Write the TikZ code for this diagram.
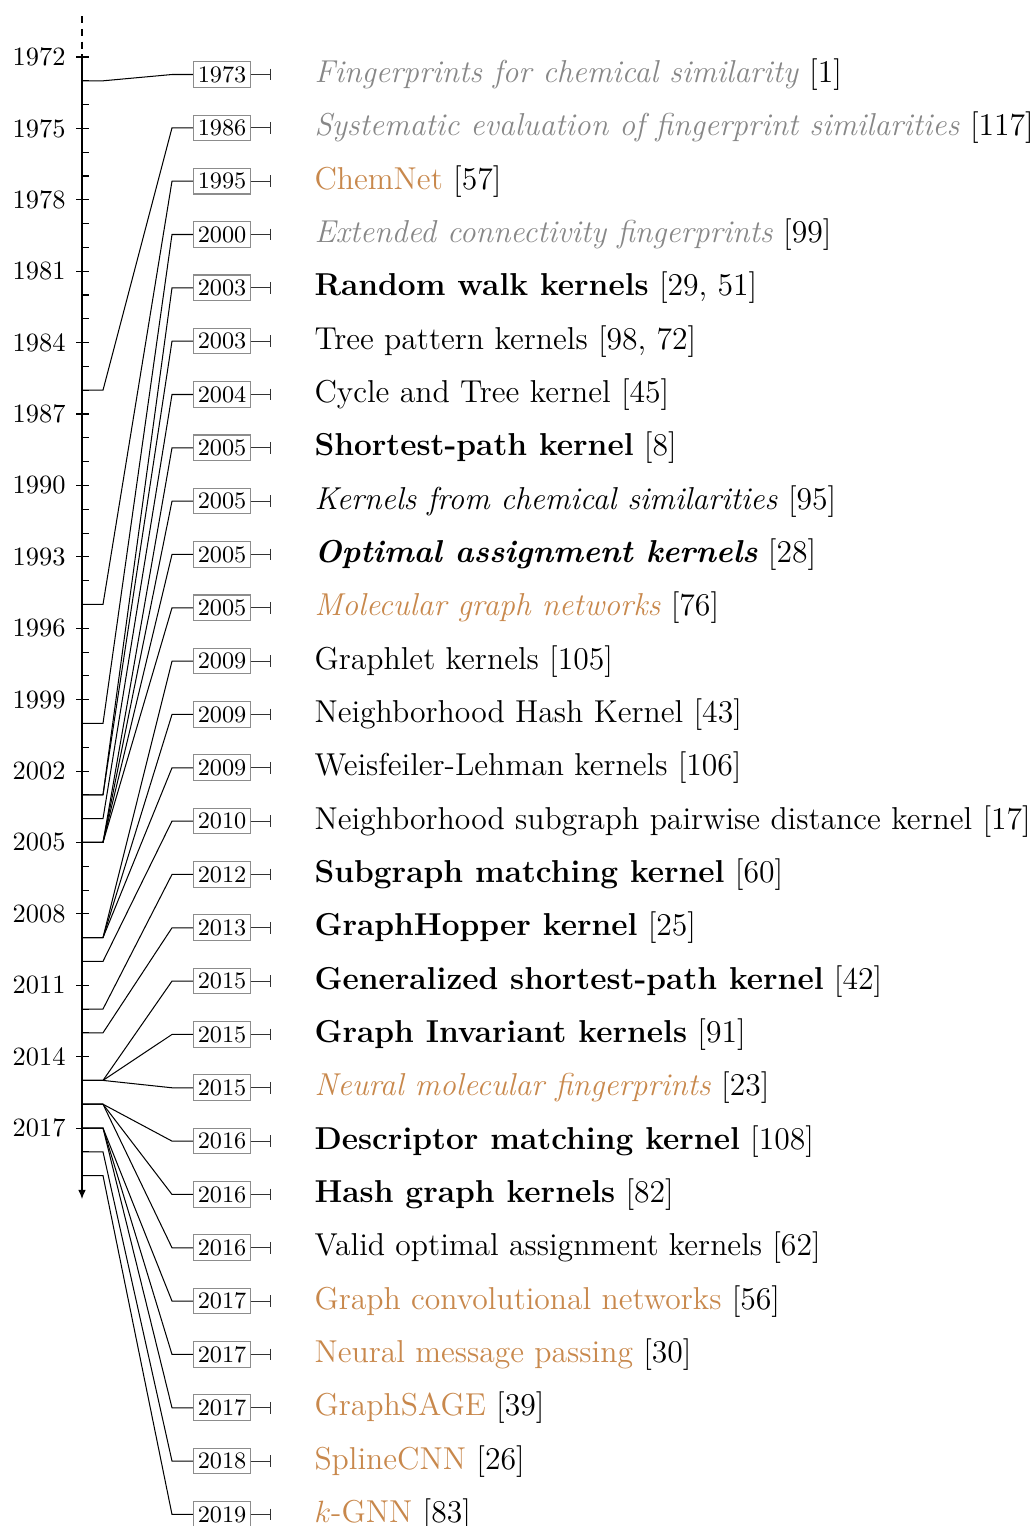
\documentclass[tikz,border=0pt]{standalone}
\usetikzlibrary{arrows.meta}

\definecolor{nnorange}{RGB}{200,136,76}
\definecolor{fpgray}{RGB}{135,135,135}

% fingerprint methods (grey italic) and neural methods (orange)
\newcommand\fptext[1]{\textcolor{fpgray}{\textit{#1}}}
\newcommand\nntext[1]{\textcolor{nnorange}{#1}}

% one timeline entry: #1 row index, #2 year, #3 label
\newcommand\tlrow[3]{%
  \pgfmathsetmacro\rowy{74.5+(#1-1)*53.33}%
  \pgfmathsetmacro\axy{57+(#2-1972)*23.8}%
  \coordinate (ax-#1) at (82,\axy);
  \coordinate (kn-#1) at (103,\axy);
  \coordinate (ln-#1) at (172,\rowy);
  \node[yearbox] (yb-#1) at (222,\rowy) {#2};
  \coordinate (bar-#1) at (271,\rowy);
  \node[entry] (tx-#1) at (314,\rowy) {#3};
  \draw[conn] (ax-#1) -- (kn-#1) -- (ln-#1) -- (yb-#1.west);
  \draw[barline] (yb-#1.east) -- (bar-#1);
}

\begin{document}
\begin{tikzpicture}[x=0.39pt,y=-0.39pt,
  yearbox/.style={draw=black!45, fill=white, font=\fontsize{9.2}{11}\selectfont,
                  inner sep=0pt, minimum width=22.4pt, minimum height=10pt},
  entry/.style={anchor=west, inner sep=0pt, font=\fontsize{12.35}{15}\selectfont},
  yearlabel/.style={anchor=east, inner sep=0pt, font=\fontsize{10.3}{12}\selectfont},
  conn/.style={black, line width=0.4pt},
  barline/.style={black!80, line width=0.4pt, -{Bar[width=4.6pt]}},
  tick/.style={line width=0.4pt}]

\useasboundingbox (0,0) rectangle (1035,1526);

% time axis
\coordinate (ax-top) at (82,16);
\coordinate (ax-start) at (82,57);
\coordinate (ax-end) at (82,1199);
\draw[dash pattern=on 2.8pt off 2.2pt] (ax-top) -- (ax-start);
\draw[line width=0.4pt, -{Latex[length=3.6pt,width=3pt]}] (ax-start) -- (ax-end);

% yearly ticks
\foreach \yr in {1972,...,2019} {
  \pgfmathsetmacro\ty{57+(\yr-1972)*23.8}
  \draw[tick] (82,\ty) -- (89,\ty);
}
% labelled ticks every three years
\foreach \yr in {1972,1975,...,2017} {
  \pgfmathsetmacro\ty{57+(\yr-1972)*23.8}
  \draw[tick] (76,\ty) -- (89,\ty);
  \node[yearlabel] (yl-\yr) at (66,\ty) {\yr};
}

\tlrow{1}{1973}{\fptext{Fingerprints for chemical similarity} [1]}
\tlrow{2}{1986}{\fptext{Systematic evaluation of fingerprint similarities} [117]}
\tlrow{3}{1995}{\nntext{ChemNet} [57]}
\tlrow{4}{2000}{\fptext{Extended connectivity fingerprints} [99]}
\tlrow{5}{2003}{\textbf{Random walk kernels} [29, 51]}
\tlrow{6}{2003}{Tree pattern kernels [98, 72]}
\tlrow{7}{2004}{Cycle and Tree kernel [45]}
\tlrow{8}{2005}{\textbf{Shortest-path kernel} [8]}
\tlrow{9}{2005}{\textit{Kernels from chemical similarities} [95]}
\tlrow{10}{2005}{\textbf{\textit{Optimal assignment kernels}} [28]}
\tlrow{11}{2005}{\nntext{\textit{Molecular graph networks}} [76]}
\tlrow{12}{2009}{Graphlet kernels [105]}
\tlrow{13}{2009}{Neighborhood Hash Kernel [43]}
\tlrow{14}{2009}{Weisfeiler-Lehman kernels [106]}
\tlrow{15}{2010}{Neighborhood subgraph pairwise distance kernel [17]}
\tlrow{16}{2012}{\textbf{Subgraph matching kernel} [60]}
\tlrow{17}{2013}{\textbf{GraphHopper kernel} [25]}
\tlrow{18}{2015}{\textbf{Generalized shortest-path kernel} [42]}
\tlrow{19}{2015}{\textbf{Graph Invariant kernels} [91]}
\tlrow{20}{2015}{\nntext{\textit{Neural molecular fingerprints}} [23]}
\tlrow{21}{2016}{\textbf{Descriptor matching kernel} [108]}
\tlrow{22}{2016}{\textbf{Hash graph kernels} [82]}
\tlrow{23}{2016}{Valid optimal assignment kernels [62]}
\tlrow{24}{2017}{\nntext{Graph convolutional networks} [56]}
\tlrow{25}{2017}{\nntext{Neural message passing} [30]}
\tlrow{26}{2017}{\nntext{GraphSAGE} [39]}
\tlrow{27}{2018}{\nntext{SplineCNN} [26]}
\tlrow{28}{2019}{\nntext{$k$-GNN} [83]}

\end{tikzpicture}
\end{document}
